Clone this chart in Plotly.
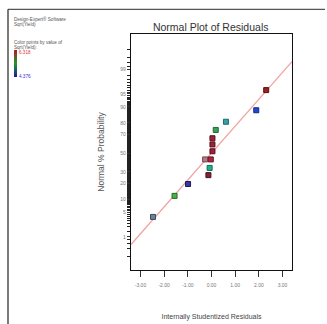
import plotly.graph_objects as go
from statistics import NormalDist

# ---- data ----
residuals = [-2.47, -1.56, -0.99, -0.13, -0.08, -0.27, -0.03, 0.04, 0.04, 0.04, 0.18, 0.61, 1.89, 2.31]
normal_prob = [3.8, 11.7, 19.5, 27.0, 34.0, 43.0, 43.0, 52.0, 59.5, 66.0, 74.0, 80.8, 88.3, 96.0]
point_fill = ["#6f8396", "#4caf4c", "#3a3a9c", "#7a2436", "#22b08c", "#b07a86", "#a8283c",
              "#9a2236", "#9a2236", "#9a2236", "#3aa05a", "#3aa0a0", "#2648c8", "#962424"]
point_edge = ["#3a4a5a", "#1f6e1f", "#1a1a60", "#4a0e1c", "#0e6e54", "#7a4650", "#6e1020",
              "#5e0e1c", "#5e0e1c", "#5e0e1c", "#1a6a36", "#1a6a6a", "#10288a", "#5e0e0e"]
fit_x = [-3.4, 3.4]
fit_prob = [0.55, 99.45]
prob_ticks = [1, 5, 10, 20, 30, 50, 70, 80, 90, 95, 99]
x_ticks = [-3, -2, -1, 0, 1, 2, 3]
x_tick_labels = ["-3.00", "-2.00", "-1.00", "0.00", "1.00", "2.00", "3.00"]
color_max, color_min = 6.318, 4.376
key_colors = [(176, 28, 44), (31, 154, 42), (28, 28, 156)]  # top -> middle -> bottom

nd = NormalDist()
z = lambda p: nd.inv_cdf(p / 100.0)

W, H = 327, 324
ML, MR, MT, MB = 131, 35, 34, 54
PW, PH = W - ML - MR, H - MT - MB
px = lambda x: (x - ML) / PW
py = lambda y: 1 - (y - MT) / PH

FONT = "Liberation Sans, Arial, sans-serif"

fig = go.Figure()

fig.add_trace(go.Scatter(
    x=fit_x, y=[z(p) for p in fit_prob], mode="lines",
    line=dict(color="#f2a0a0", width=1.3), hoverinfo="skip", showlegend=False))

fig.add_trace(go.Scatter(
    x=residuals, y=[z(p) for p in normal_prob], mode="markers",
    marker=dict(symbol="square", size=5, color=point_fill,
                line=dict(color=point_edge, width=1)),
    showlegend=False))

minor_pcts = ([0.2 * i for i in range(1, 5)] + [1 + 0.5 * i for i in range(0, 197)] +
              [99 + 0.2 * i for i in range(1, 5)])
minor_vals = [z(p) for p in minor_pcts]

fig.update_layout(
    width=W, height=H, margin=dict(l=ML, r=MR, t=MT, b=MB),
    paper_bgcolor="white", plot_bgcolor="white",
    font=dict(family=FONT, color="#555"),
    title=dict(text="Normal Plot of Residuals", x=210.7 / W, xref="container",
               y=1 - 27 / H, yref="container", xanchor="center", yanchor="middle",
               font=dict(size=10.5, color="#333", family=FONT)),
    xaxis=dict(range=[-3.4, 3.4], tickvals=x_ticks, ticktext=x_tick_labels,
               automargin=False,
               showgrid=False, zeroline=False, showline=True, linecolor="#111",
               linewidth=1.2, mirror=True, ticks="outside", ticklen=6, tickwidth=1,
               tickcolor="#333", tickfont=dict(size=5, color="#777"),
               ticklabelstandoff=4,
               title=dict(text="Internally Studentized Residuals", standoff=27,
                          font=dict(size=7, color="#444"))),
    yaxis=dict(range=[-3.25, 3.31], tickvals=[z(p) for p in prob_ticks],
               ticktext=[str(p) for p in prob_ticks], automargin=False,
               showgrid=False, zeroline=False, showline=True, linecolor="#111",
               linewidth=1.2, mirror=True, ticks="outside", ticklen=3, tickwidth=1,
               tickcolor="#333", tickfont=dict(size=5, color="#777"),
               minor=dict(tickvals=minor_vals, ticks="outside", ticklen=2.5,
                          tickwidth=1, tickcolor="#222", showgrid=False),
               title=dict(text="Normal % Probability", standoff=14,
                          font=dict(size=8.5, color="#555"))),
)

# outer frame lines (top and left)
fig.add_shape(type="line", xref="paper", yref="paper", x0=px(8), x1=px(325),
              y0=py(9.3), y1=py(9.3), line=dict(color="#555", width=1.3))
fig.add_shape(type="line", xref="paper", yref="paper", x0=px(8), x1=px(8),
              y0=py(9.3), y1=py(324), line=dict(color="#333", width=1.3))

# colour key gradient bar
KY0, KY1, KX0, KX1 = 50, 77, 14, 17
n = KY1 - KY0
for i in range(n):
    t = i / (n - 1)
    if t <= 0.5:
        a, b, f = key_colors[0], key_colors[1], t / 0.5
    else:
        a, b, f = key_colors[1], key_colors[2], (t - 0.5) / 0.5
    c = tuple(round(a[k] + (b[k] - a[k]) * f) for k in range(3))
    fig.add_shape(type="rect", xref="paper", yref="paper",
                  x0=px(KX0), x1=px(KX1), y0=py(KY0 + i), y1=py(KY0 + i + 1),
                  line=dict(width=0), fillcolor=f"rgb{c}")

notes = [("Design-Expert® Software", 12, 18.5, "#555"),
         ("Sqrt(Yield)", 12, 24.5, "#555"),
         ("Color points by value of", 12, 42.5, "#555"),
         ("Sqrt(Yield):", 12, 47.5, "#555"),
         (f"{color_max:.3f}", 17.5, 52, "#e03030"),
         (f"{color_min:.3f}", 17.5, 76, "#3030e0")]
for t, x0, y0, c in notes:
    fig.add_annotation(text=t, xref="paper", yref="paper", x=px(x0), y=py(y0),
                       xanchor="left", yanchor="middle", showarrow=False,
                       font=dict(size=4.6, color=c, family=FONT))

fig.write_html("out.html")
